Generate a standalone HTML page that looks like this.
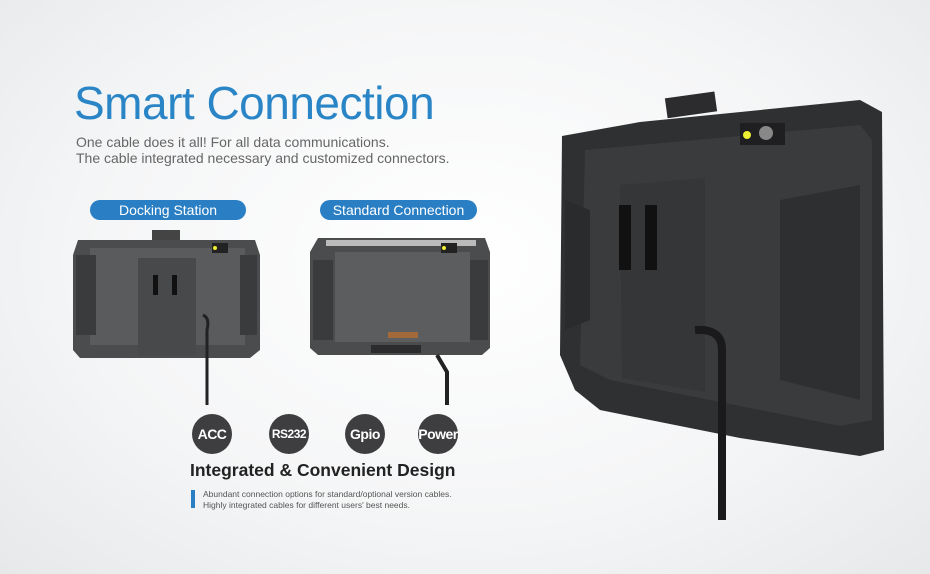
<!DOCTYPE html>
<html><head><meta charset="utf-8"><style>
html,body{margin:0;padding:0}
body{width:930px;height:574px;position:relative;overflow:hidden;background:radial-gradient(ellipse at 50% 45%,#ffffff 0%,#f4f5f6 60%,#e6e8ea 100%);font-family:"Liberation Sans",sans-serif}
.a{position:absolute}
.pill{background:#2a7fc4;color:#fff;border-radius:11px;font-size:14px;height:20px;line-height:20px;text-align:center}
.c{width:40px;height:40px;border-radius:50%;background:#3e3e40;color:#fff;font-size:14px;line-height:40px;text-align:center;font-weight:bold;letter-spacing:-0.5px}
</style></head><body>
<div class="a" style="left:74px;top:76px;font-size:46px;color:#2a85c6;letter-spacing:-0.5px">Smart Connection</div>
<div class="a" style="left:76px;top:134px;font-size:14px;color:#666;line-height:16px">One cable does it all! For all data communications.<br>The cable integrated necessary and customized connectors.</div>
<div class="a pill" style="left:90px;top:200px;width:156px">Docking Station</div>
<div class="a pill" style="left:320px;top:200px;width:157px">Standard Connection</div>

<svg class="a" style="left:0;top:0" width="930" height="574">
<rect x="152" y="230" width="28" height="18" fill="#444"/>
<path d="M78 240 L255 240 L260 255 L260 350 L250 358 L80 358 L73 350 L73 255Z" fill="#4b4c4e"/>
<path d="M90 248 L245 248 L245 345 L90 345Z" fill="#5a5b5d"/>
<rect x="76" y="255" width="20" height="80" fill="#3a3b3d"/><rect x="240" y="255" width="17" height="80" fill="#3a3b3d"/>
<path d="M138 258 L196 258 L196 355 L138 355Z" fill="#48494b"/>
<rect x="153" y="275" width="5" height="20" fill="#111"/><rect x="172" y="275" width="5" height="20" fill="#111"/>
<rect x="212" y="243" width="16" height="10" fill="#222"/><circle cx="215" cy="248" r="2" fill="#ee3"/>
<path d="M203 315 Q210 318 207 330 L207 405" stroke="#222" stroke-width="3" fill="none"/>
<path d="M318 238 L485 238 L490 252 L490 348 L482 355 L318 355 L310 348 L310 252Z" fill="#4b4c4e"/>
<rect x="326" y="240" width="150" height="6" fill="#bbb"/>
<path d="M335 252 L470 252 L470 342 L335 342Z" fill="#5c5d5f"/>
<rect x="313" y="260" width="20" height="80" fill="#3a3b3d"/><rect x="470" y="260" width="18" height="80" fill="#3a3b3d"/>
<rect x="388" y="332" width="30" height="6" fill="#a26a3a"/>
<rect x="371" y="345" width="50" height="8" fill="#2c2c2e"/>
<rect x="441" y="243" width="16" height="10" fill="#222"/><circle cx="444" cy="248" r="2" fill="#ee3"/>
<path d="M437 355 L447 372 L447 405" stroke="#222" stroke-width="4" fill="none"/>
<rect x="666" y="95" width="50" height="20" fill="#2c2c2e" transform="rotate(-8 690 105)"/>
<path d="M562 136 L640 122 L810 105 L860 100 L882 112 L884 450 L860 456 L740 438 L600 410 L575 390 L560 355 Z" fill="#2f3032"/>
<path d="M585 150 L860 125 L872 140 L872 420 L840 426 L610 380 L580 365 Z" fill="#3a3b3d"/>
<path d="M620 185 L705 178 L705 392 L622 378Z" fill="#353638"/>
<path d="M780 200 L860 185 L860 400 L780 380Z" fill="#2e2f31"/>
<path d="M565 200 L590 210 L590 320 L565 330Z" fill="#2a2b2d"/>
<rect x="619" y="205" width="12" height="65" fill="#111"/><rect x="645" y="205" width="12" height="65" fill="#111"/>
<rect x="740" y="123" width="45" height="22" fill="#1f1f21"/><circle cx="747" cy="135" r="4" fill="#ee3"/><circle cx="766" cy="133" r="7" fill="#888"/>
<path d="M695 330 Q722 328 722 350 L722 520" stroke="#1a1a1c" stroke-width="8" fill="none"/>
<rect x="191" y="490" width="4" height="18" fill="#2a7fc4"/>
</svg>

<div class="a c" style="left:192px;top:414px">ACC</div>
<div class="a c" style="left:269px;top:414px;font-size:12px">RS232</div>
<div class="a c" style="left:345px;top:414px">Gpio</div>
<div class="a c" style="left:418px;top:414px">Power</div>
<div class="a" style="left:190px;top:460px;font-size:17.5px;font-weight:bold;color:#222">Integrated &amp; Convenient Design</div>
<div class="a" style="left:203px;top:489px;font-size:8.5px;color:#555;line-height:11px">Abundant connection options for standard/optional version cables.<br>Highly integrated cables for different users' best needs.</div>
</body></html>
